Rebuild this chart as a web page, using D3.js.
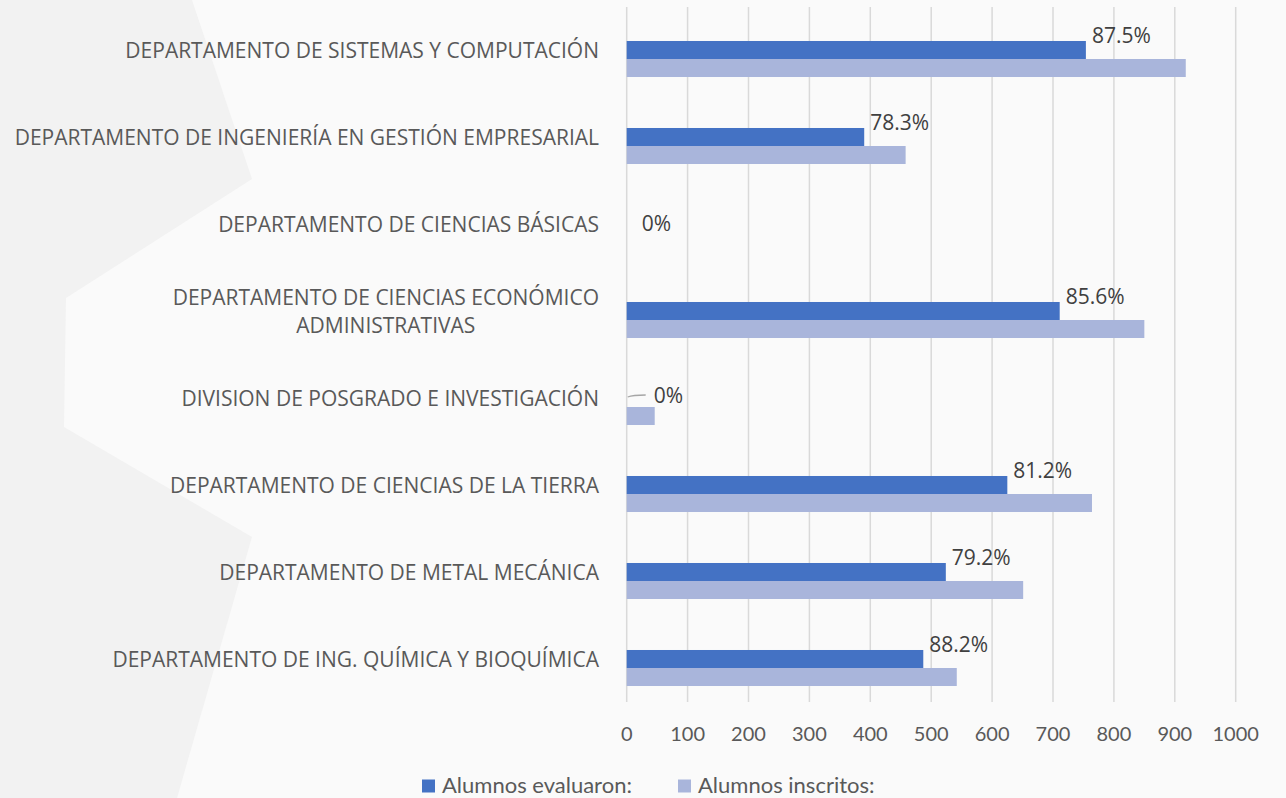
<!DOCTYPE html>
<html>
<head>
<meta charset="utf-8">
<script src="https://cdn.jsdelivr.net/npm/d3@7"></script>
<style>
  body { margin: 0; background: #fafafa; }
  svg { display: block; }
</style>
</head>
<body>
<div id="chart"></div>
<script>
// data
var departments = [
    'DEPARTAMENTO DE SISTEMAS Y COMPUTACIÓN',
    'DEPARTAMENTO DE INGENIERÍA EN GESTIÓN EMPRESARIAL',
    'DEPARTAMENTO DE CIENCIAS BÁSICAS',
    'DEPARTAMENTO DE CIENCIAS ECONÓMICO ADMINISTRATIVAS',
    'DIVISION DE POSGRADO E INVESTIGACIÓN',
    'DEPARTAMENTO DE CIENCIAS DE LA TIERRA',
    'DEPARTAMENTO DE METAL MECÁNICA',
    'DEPARTAMENTO DE ING. QUÍMICA Y BIOQUÍMICA'
];
var evaluaron = [754, 390, 0, 711, 0, 625, 524, 487];
var inscritos = [918, 458, 0, 850, 46, 764, 651, 542];
var percentLabels = ['87.5%', '78.3%', '0%', '85.6%', '0%', '81.2%', '79.2%', '88.2%'];
var seriesNames = ['Alumnos evaluaron:', 'Alumnos inscritos:'];
var xTicks = [0, 100, 200, 300, 400, 500, 600, 700, 800, 900, 1000];

function buildChart(containerId) {
    var width = 1286;
    var height = 798;

    var colors = ['#4472c4', '#a9b5db'];
    var gridTop = 7;
    var gridBottom = 702;

    var svg = d3.select(containerId)
        .append('svg')
        .attr('width', width)
        .attr('height', height);

    // background shape
    svg.append('rect')
        .attr('width', width)
        .attr('height', height)
        .style('fill', '#fafafa');

    svg.append('path')
        .attr('d', 'M0,0 L192,0 L252,179 L66,298 L64,427 L252,537 L177,798 L0,798 Z')
        .style('fill', '#f2f2f2');

    var x = d3.scaleLinear()
        .domain([0, 1000])
        .range([626.7, 1235.7]);

    var y = d3.scaleBand()
        .domain(departments)
        .range([15.5, 711.5])
        .paddingInner(0.586)
        .paddingOuter(0.293);

    var ySub = d3.scaleBand()
        .domain([0, 1])
        .range([0, y.bandwidth()]);

    // gridlines
    svg.append('g')
        .selectAll('line')
        .data(xTicks)
        .enter()
        .append('line')
        .attr('x1', d => x(d))
        .attr('x2', d => x(d))
        .attr('y1', gridTop)
        .attr('y2', gridBottom)
        .style('stroke', '#d9d9d9')
        .style('stroke-width', 1.5);

    // tick labels
    svg.append('g')
        .selectAll('text')
        .data(xTicks)
        .enter()
        .append('text')
        .attr('x', d => x(d))
        .attr('y', 733)
        .attr('text-anchor', 'middle')
        .attr('dominant-baseline', 'central')
        .style('font-family', 'Lato, sans-serif')
        .style('font-size', '20px')
        .style('fill', '#595959')
        .text(d => d);

    // bars
    var rows = departments.map((d, i) => ({
        name: d,
        values: [evaluaron[i], inscritos[i]],
        label: percentLabels[i]
    }));

    var groups = svg.append('g')
        .selectAll('g')
        .data(rows)
        .enter()
        .append('g')
        .attr('transform', d => 'translate(0,' + y(d.name) + ')');

    groups.selectAll('rect')
        .data(d => d.values.map((v, k) => ({ v: v, k: k })))
        .enter()
        .append('rect')
        .attr('x', x(0))
        .attr('y', d => ySub(d.k))
        .attr('width', d => x(d.v) - x(0))
        .attr('height', ySub.bandwidth())
        .style('fill', d => colors[d.k]);

    // data labels
    groups.each(function(d) {
        var g = d3.select(this);
        var v = d.values[0];
        var lx, ly;
        if (v === 0) {
            lx = x(0) + 15;
            ly = 8;
            if (d.values[1] > 0) {
                // leader line for the label pushed off the empty bar
                ly = 6;
                g.append('path')
                    .attr('d', 'M' + (x(0) + 1) + ',' + (ly + 2) + ' Q' + (x(0) + 6) + ',' + ly + ' ' + (x(0) + 19) + ',' + ly)
                    .style('fill', 'none')
                    .style('stroke', '#a6a6a6')
                    .style('stroke-width', 1.3);
                lx = x(0) + 27;
            }
        } else {
            lx = x(v) + 6;
            ly = -6;
        }
        g.append('text')
            .attr('x', lx)
            .attr('y', ly)
            .attr('dominant-baseline', 'central')
            .style('font-family', '"Open Sans", sans-serif')
            .style('font-size', '21px')
            .style('fill', '#404040')
            .text(d.label);
    });

    // category labels, wrapped and centred per line
    var labelRight = 599;
    var maxWidth = 595;
    var lineHeight = 28;

    var catLabels = svg.append('g')
        .selectAll('text')
        .data(departments)
        .enter()
        .append('text')
        .style('font-family', '"Open Sans", sans-serif')
        .style('font-size', '21px')
        .style('fill', '#595959')
        .attr('text-anchor', 'middle');

    catLabels.each(function(d) {
        var t = d3.select(this);
        var words = d.split(' ');
        var lines = [];
        var line = [];
        var probe = t.append('tspan');
        words.forEach(w => {
            line.push(w);
            probe.text(line.join(' '));
            if (probe.node().getComputedTextLength() > maxWidth && line.length > 1) {
                line.pop();
                lines.push(line.join(' '));
                line = [w];
            }
        });
        lines.push(line.join(' '));
        probe.remove();

        var widths = lines.map(l => {
            var s = t.append('tspan').text(l);
            var w = s.node().getComputedTextLength();
            s.remove();
            return w;
        });
        var blockW = d3.max(widths);
        var cx = labelRight - blockW / 2;
        var cy = y(d) + y.bandwidth() / 2 - 9;
        var y0 = cy - (lines.length - 1) * lineHeight / 2;

        lines.forEach((l, i) => {
            t.append('tspan')
                .attr('x', cx)
                .attr('y', y0 + i * lineHeight)
                .attr('dominant-baseline', 'central')
                .text(l);
        });
    });

    // legend
    var legendX = [422, 678];
    var legend = svg.append('g')
        .selectAll('g')
        .data(seriesNames)
        .enter()
        .append('g')
        .attr('transform', (d, i) => 'translate(' + legendX[i] + ',784)');

    legend.append('rect')
        .attr('x', 0)
        .attr('y', -4.5)
        .attr('width', 13)
        .attr('height', 13)
        .style('fill', (d, i) => colors[i]);

    legend.append('text')
        .attr('x', 20)
        .attr('y', 0)
        .attr('dominant-baseline', 'central')
        .style('font-family', 'Lato, sans-serif')
        .style('font-size', '22px')
        .style('fill', '#595959')
        .text(d => d);
}

buildChart('#chart');
</script>
</body>
</html>
